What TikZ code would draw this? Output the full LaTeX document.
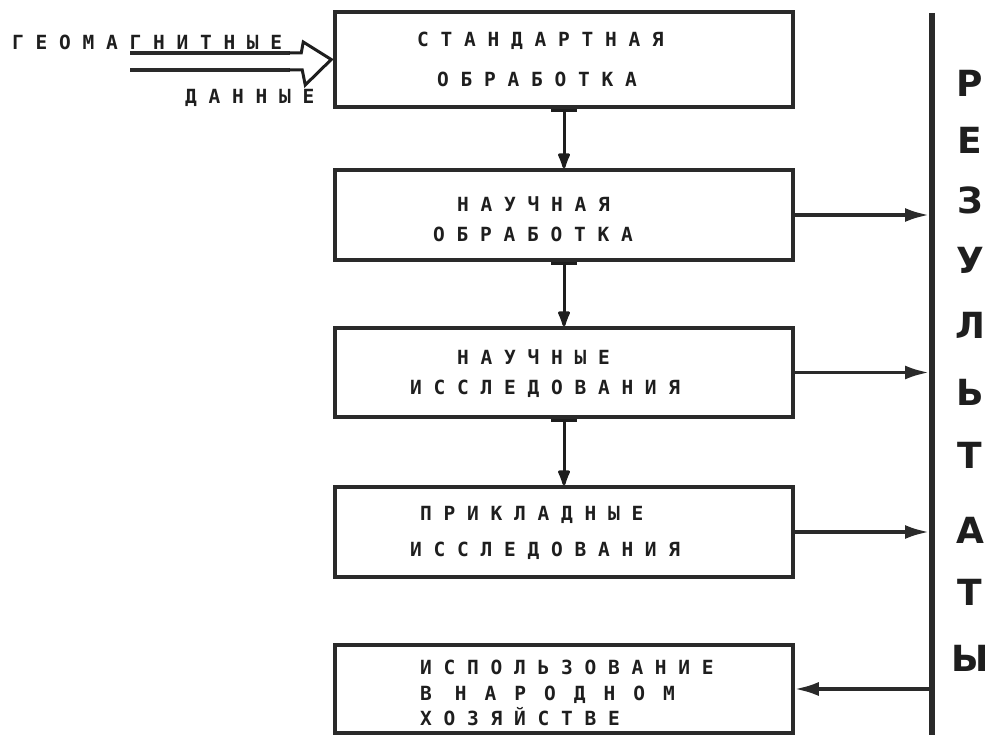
\documentclass[tikz,border=0pt]{standalone}
\usepackage{fontspec}
\setmainfont{DejaVu Sans}
\newfontfamily\twfont{DejaVu Sans Mono}
\newfontfamily\resfont{DejaVu Sans}
\usetikzlibrary{arrows.meta}
\definecolor{ink}{HTML}{1E1E1E}
\definecolor{linec}{HTML}{2A2A2A}
\newcommand\wsp{\hspace{18pt}}
\begin{document}
\begin{tikzpicture}[x=1pt,y=-1pt,
  box/.style={draw=linec, line width=3.5pt, rectangle, inner sep=0pt, minimum width=458pt},
  lab/.style={anchor=west, inner sep=0pt, text height=14pt, text depth=0pt,
              font=\twfont\bfseries\fontsize{19.5}{20}\selectfont, text=ink},
  res/.style={anchor=center, inner sep=0pt, text height=27pt, text depth=0pt,
              font=\resfont\bfseries\fontsize{36}{36}\selectfont, text=ink},
  flow/.style={draw=ink, line width=3pt, {Bar[width=26pt,line width=3.5pt]}-{Latex[length=20pt,width=14pt,round]}},
  outarrow/.style={draw=linec, line width=3.5pt, -{Latex[length=24pt,width=14pt]}},
  feed/.style={draw=linec, line width=4pt},
  chev/.style={draw=ink, line width=3pt, line join=miter}
]
\useasboundingbox (0,0) rectangle (987,735);

% boxes
\node[box, minimum height=95pt] (b1) at (564,59.5) {};
\node[box, minimum height=90pt] (b2) at (564,215) {};
\node[box, minimum height=89pt] (b3) at (564,372.5) {};
\node[box, minimum height=90pt] (b4) at (564,532) {};
\node[box, minimum height=88pt] (b5) at (564,689) {};

% texts in boxes
\node[lab] (t1a) at (417,40) {С Т А Н Д А Р Т Н А Я};
\node[lab] (t1b) at (437,80) {О Б Р А Б О Т К А};
\node[lab] (t2a) at (457,205) {Н А У Ч Н А Я};
\node[lab] (t2b) at (433,235) {О Б Р А Б О Т К А};
\node[lab] (t3a) at (457,357) {Н А У Ч Н Ы Е};
\node[lab] (t3b) at (410,387) {И С С Л Е Д О В А Н И Я};
\node[lab] (t4a) at (420,513) {П Р И К Л А Д Н Ы Е};
\node[lab] (t4b) at (410,549) {И С С Л Е Д О В А Н И Я};
\node[lab] (t5a) at (420,667) {И С П О Л Ь З О В А Н И Е};
\node[lab] (t5b) at (420,693) {В\hspace{23pt}Н\wsp А\wsp Р\wsp О\wsp Д\wsp Н\wsp О\wsp М};
\node[lab] (t5c) at (420,718) {Х О З Я Й С Т В Е};

% left input label
\node[lab] (g1) at (12,43) {Г Е О М А Г Н И Т Н Ы Е};
\node[lab] (g2) at (185,97) {Д А Н Н Ы Е};

% block arrow into b1
\begin{scope}[shift={(b1.west)}]
  \coordinate (inU) at (-203,-6.5);
  \coordinate (inL) at (-203,10.5);
  \draw[feed] (inU) -- (-43,-6.5);
  \draw[feed] (inL) -- (-43,10.5);
  \draw[chev] (-44,-6.5) -- (-32,-6.5) -- (-30,-17.5) -- (-2,0) -- (-28,25.5) -- (-31,10.5) -- (-44,10.5);
\end{scope}

% vertical flow arrows
\draw[flow] (b1.south) -- (b2.north);
\draw[flow] (b2.south) -- (b3.north);
\draw[flow] (b3.south) -- (b4.north);

% results bar
\coordinate (bartop) at (932,13);
\coordinate (barbot) at (932,735);
\draw[draw=linec, line width=6pt] (bartop) -- (barbot);

% outputs
\draw[outarrow, shorten >=3pt] (b2.east) -- (b2.east -| bartop);
\draw[outarrow, shorten >=3pt] (b3.east) -- (b3.east -| bartop);
\draw[outarrow, shorten >=3pt] (b4.east) -- (b4.east -| bartop);
\draw[outarrow, shorten <=3pt] (b5.east -| bartop) -- (b5.east);

% vertical word
\node[res] (r1) at (970,83) {Р};
\node[res] (r2) at (970,140) {Е};
\node[res] (r3) at (970,200) {З};
\node[res] (r4) at (970,260) {У};
\node[res] (r5) at (970,325) {Л};
\node[res] (r6) at (970,392) {Ь};
\node[res] (r7) at (970,455) {Т};
\node[res] (r8) at (970,530) {А};
\node[res] (r9) at (970,592) {Т};
\node[res] (r10) at (970,658) {Ы};
\end{tikzpicture}
\end{document}
